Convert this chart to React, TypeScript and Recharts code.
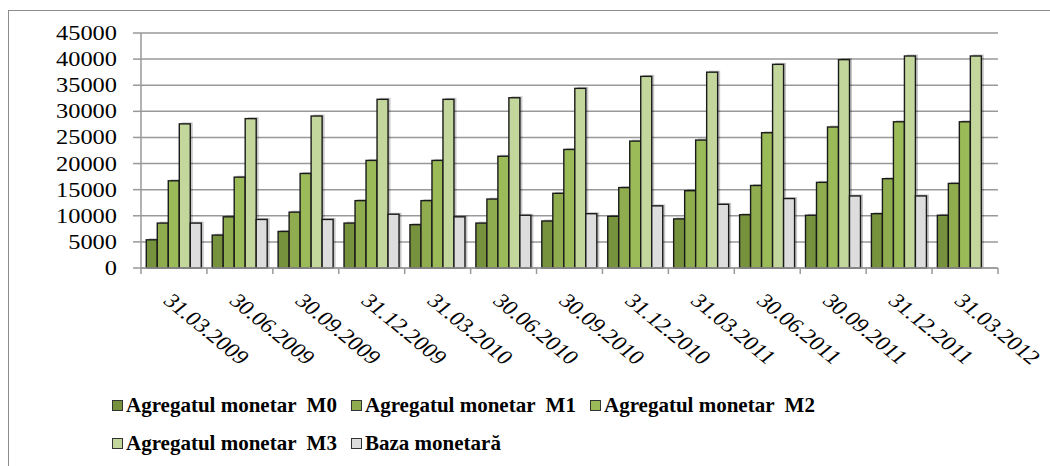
import React from 'react'
import { BarChart, Bar, XAxis, YAxis, CartesianGrid } from 'recharts'

const dates = [
  '31.03.2009', '30.06.2009', '30.09.2009', '31.12.2009', '31.03.2010', '30.06.2010', '30.09.2010',
  '31.12.2010', '31.03.2011', '30.06.2011', '30.09.2011', '31.12.2011', '31.03.2012',
]
const m0 = [5400, 6300, 7000, 8600, 8300, 8600, 9000, 9900, 9400, 10200, 10100, 10400, 10100]
const m1 = [8600, 9800, 10700, 12900, 12900, 13200, 14300, 15400, 14800, 15800, 16400, 17100, 16200]
const m2 = [16700, 17400, 18100, 20600, 20600, 21400, 22700, 24300, 24500, 25900, 27000, 28000, 28000]
const m3 = [27600, 28600, 29100, 32300, 32300, 32600, 34400, 36700, 37500, 39000, 39900, 40600, 40600]
const baza = [8600, 9300, 9300, 10300, 9800, 10100, 10400, 11900, 12200, 13300, 13800, 13800, null]
const yTicks = [0, 5000, 10000, 15000, 20000, 25000, 30000, 35000, 40000, 45000]

const seriesNames = [
  'Agregatul monetar  M0',
  'Agregatul monetar  M1',
  'Agregatul monetar  M2',
  'Agregatul monetar  M3',
  'Baza monetară',
]
const seriesKeys = ['m0', 'm1', 'm2', 'm3', 'baza']
const seriesColors = ['#76923C', '#8FAD4F', '#9BBB59', '#C3D69B', '#DDDDDD']

const rows = dates.map((d, i) => ({
  date: d,
  m0: m0[i],
  m1: m1[i],
  m2: m2[i],
  m3: m3[i],
  baza: baza[i],
}))

const W = 1050
const H = 466
const PLOT_LEFT = 141
const PLOT_RIGHT = 998
const PLOT_TOP = 33
const PLOT_BOTTOM = 268
const bandWidth = (PLOT_RIGHT - PLOT_LEFT) / dates.length
const serif = "'Liberation Serif', 'DejaVu Serif', Tinos, 'Times New Roman', serif"
const stretch = 1.22

function ShadowBar(props: any) {
  const { x, y, width, height, fill } = props
  if (!height || height <= 0) return null
  return (
    <g>
      <rect x={x + 2.5} y={y - 1.5} width={width} height={height + 1.5} fill="#000" opacity={0.22} />
      <rect x={x} y={y} width={width} height={height} fill={fill} stroke="#1a1a1a" strokeWidth={1.4} />
    </g>
  )
}

function YTick(props: any) {
  const { x, y, payload } = props
  return (
    <text
      transform={`translate(${x},${y + 7}) scale(${stretch},1)`}
      textAnchor="end"
      style={{ fontFamily: serif }}
      fontSize={20}
      fill="#000"
    >
      {payload.value}
    </text>
  )
}

function XTick(props: any) {
  const { x, y, payload, index } = props
  const left = x - bandWidth / 2
  const right = x + bandWidth / 2
  return (
    <g>
      <line x1={left} y1={y} x2={left} y2={y + 6} stroke="#999" strokeWidth={1.5} />
      {index === dates.length - 1 && (
        <line x1={right} y1={y} x2={right} y2={y + 6} stroke="#999" strokeWidth={1.5} />
      )}
      <text
        transform={`translate(${x - 12},${y + 34}) scale(${stretch},1) rotate(45)`}
        textAnchor="start"
        style={{ fontFamily: serif }}
        fontSize={20}
        fill="#000"
      >
        {payload.value}
      </text>
    </g>
  )
}

function LegendBox() {
  const item = (i: number) => (
    <div
      key={seriesKeys[i]}
      style={{ display: 'flex', alignItems: 'center', width: i < 4 ? 239 : 'auto' }}
    >
      <span
        style={{
          display: 'inline-block',
          width: 9,
          height: 9,
          background: seriesColors[i],
          border: '1px solid #333',
          marginRight: 3,
        }}
      />
      <span style={{ whiteSpace: 'pre' }}>{seriesNames[i]}</span>
    </div>
  )
  return (
    <div
      style={{
        position: 'absolute',
        left: 112,
        top: 386,
        width: 740,
        fontFamily: serif,
        fontWeight: 'bold',
        fontSize: 21,
        lineHeight: '38px',
        color: '#000',
      }}
    >
      <div style={{ display: 'flex' }}>{[0, 1, 2].map(item)}</div>
      <div style={{ display: 'flex' }}>{[3, 4].map(item)}</div>
    </div>
  )
}

export default function App() {
  return (
    <div style={{ position: 'fixed', left: 0, top: 0, width: W, height: H, overflow: 'hidden', background: '#fff' }}>
      <div
        style={{
          position: 'absolute',
          left: 8,
          top: 10,
          width: W,
          height: H + 20,
          border: '1px solid #8c8c8c',
        }}
      />
      <div style={{ position: 'absolute', left: 0, top: 0 }}>
        <BarChart
          width={W}
          height={H}
          data={rows}
          margin={{ top: PLOT_TOP, right: W - PLOT_RIGHT, left: 0, bottom: 0 }}
          barCategoryGap="8%"
          barGap={0}
        >
          <CartesianGrid vertical={false} stroke="#999" strokeWidth={1.5} />
          <XAxis
            dataKey="date"
            interval={0}
            height={H - PLOT_BOTTOM}
            tickSize={0}
            tickMargin={0}
            axisLine={{ stroke: '#999', strokeWidth: 1.5 }}
            tick={<XTick />}
          />
          <YAxis
            width={PLOT_LEFT}
            domain={[0, 45000]}
            ticks={yTicks}
            interval={0}
            tickSize={8}
            tickMargin={16}
            axisLine={{ stroke: '#999', strokeWidth: 1.5 }}
            tickLine={{ stroke: '#999', strokeWidth: 1.5 }}
            tick={<YTick />}
          />
          {seriesKeys.map((k, i) => (
            <Bar
              key={k}
              dataKey={k}
              name={seriesNames[i]}
              fill={seriesColors[i]}
              shape={<ShadowBar />}
              isAnimationActive={false}
            />
          ))}
        </BarChart>
      </div>
      <LegendBox />
    </div>
  )
}
